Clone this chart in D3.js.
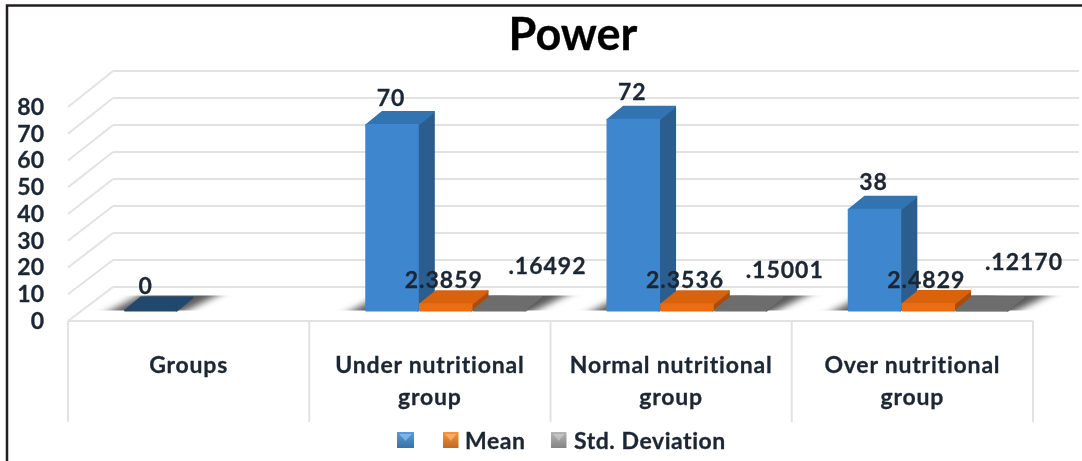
<!DOCTYPE html>
<html>
<head>
<meta charset="utf-8">
<script src="https://cdn.jsdelivr.net/npm/d3@7"></script>
<style>
html, body { margin: 0; padding: 0; background: #fff; }
svg { display: block; filter: blur(0.4px); }
text { font-family: Lato, "Open Sans", sans-serif; font-weight: 700; fill: #1d2733; stroke: #1d2733; stroke-width: 0.3px; }
</style>
</head>
<body>
<svg width="1082" height="461"></svg>
<script>
const categories = ["Groups", "Under nutritional group", "Normal nutritional group", "Over nutritional group"];
const seriesNames = ["", "Mean", "Std. Deviation"];
const firstValues = [0, 70, 72, 38];
const meanValues = [null, 2.3859, 2.3536, 2.4829];
const sdValues = [null, 0.16492, 0.15001, 0.1217];
const meanLabels = ["", "2.3859", "2.3536", "2.4829"];
const sdLabels = ["", ".16492", ".15001", ".12170"];
const yTicks = [0, 10, 20, 30, 40, 50, 60, 70, 80];

const svg = d3.select("svg");
const depthX = 16, depthY = 13; // bar depth
const colors = [
  { front: "#3e86cd", side: "#2b5d8f", top: "#3273b2", zero: "#23486e", legend: "#4a8ccb" },
  { front: "#ee6c10", side: "#a94d0c", top: "#d9620d", legend: "#e8832f" },
  { front: "#6f6f6f", side: "#555555", top: "#6d6d6d", legend: "#a3a3a3" }
];

// scales
const x0 = d3.scaleBand().domain(categories).range([68, 1033]);
const x1 = d3.scaleBand().domain([0, 1, 2]).range([57, 216]).paddingInner(0.04).paddingOuter(0);
const yFront = d3.scaleLinear().domain([0, 80]).range([321, 107]);
const yBack = d3.scaleLinear().domain([0, 80]).range([287, 71]);
const yBar = d3.scaleLinear().domain([0, 80]).range([310.5, 98.5]);

const defs = svg.append("defs");
defs.append("filter").attr("id", "floorShadow")
  .attr("x", "-50%").attr("width", "200%").attr("y", "-5%").attr("height", "110%")
  .append("feGaussianBlur").attr("stdDeviation", "8 0");

// picture frame
svg.append("rect").attr("x", 7).attr("y", 5.5).attr("width", 1090).attr("height", 470)
  .attr("fill", "none").attr("stroke", "#231f20").attr("stroke-width", 2.5);

svg.append("text").attr("x", 573).attr("y", 50).attr("text-anchor", "middle")
  .style("font-size", "45px").style("fill", "#000").style("stroke", "#000").text("Power");

// back wall gridlines and side wall
const grid = svg.append("g").attr("stroke", "#e2e2e2").attr("stroke-width", 2).attr("fill", "none");
grid.selectAll(".back").data(yTicks).enter().append("line")
  .attr("class", "back")
  .attr("x1", 113).attr("x2", 1079)
  .attr("y1", d => yBack(d)).attr("y2", d => yBack(d));
grid.selectAll(".side").data(yTicks).enter().append("line")
  .attr("class", "side")
  .attr("x1", 68).attr("x2", 113)
  .attr("y1", d => yFront(d)).attr("y2", d => yBack(d));

// category axis
const catAxis = svg.append("g").attr("stroke", "#e2e2e2").attr("stroke-width", 2);
catAxis.append("line").attr("x1", x0.range()[0]).attr("x2", x0.range()[1]).attr("y1", yFront(0)).attr("y2", yFront(0));
catAxis.selectAll(".sep").data(categories.concat([null])).enter().append("line")
  .attr("class", "sep")
  .attr("x1", d => d ? x0(d) : x0.range()[1])
  .attr("x2", d => d ? x0(d) : x0.range()[1])
  .attr("y1", yFront(0)).attr("y2", 422);

categories.forEach(c => {
  const cut = c.lastIndexOf(" group");
  const lines = cut > 0 ? [c.slice(0, cut), "group"] : [c];
  const t = svg.append("text").attr("text-anchor", "middle")
    .style("font-size", "23px").style("letter-spacing", "0.8px");
  lines.forEach((l, i) => {
    t.append("tspan").attr("x", x0(c) + x0.bandwidth() / 2).attr("y", 373 + i * 32).text(l);
  });
});

// value axis, only the labels show
const yAxis = svg.append("g").attr("transform", "translate(44,0)")
  .call(d3.axisLeft(yFront).tickValues(yTicks).tickSize(0).tickPadding(0));
yAxis.select(".domain").remove();
yAxis.selectAll("text").style("font-size", "23px").style("font-family", "Lato, sans-serif");

// bars
const rows = categories.map((c, i) => ({ c, vals: [firstValues[i], meanValues[i], sdValues[i]] }));

// shadows go first, they sit on the floor
rows.forEach(r => {
  r.vals.forEach((v, s) => {
    if (v === null) return;
    const xl = x0(r.c) + x1(s), w = x1.bandwidth(), b = yBar(0);
    svg.append("polygon")
      .attr("points", [[xl - 14, b], [xl + w + 10, b], [xl + w + depthX + 24, b - 15], [xl + depthX - 2, b - 15]].join(" "))
      .attr("fill", "#5c5c5c").attr("filter", "url(#floorShadow)");
  });
});

rows.forEach(r => {
  r.vals.forEach((v, s) => {
    if (v === null) return;
    const col = colors[s];
    const xl = x0(r.c) + x1(s), w = x1.bandwidth();
    const yt = yBar(v), yb = yBar(0);
    const g = svg.append("g").attr("stroke-width", 2).attr("stroke-linejoin", "round");
    g.append("polygon")
      .attr("points", [[xl + w, yt], [xl + w + depthX, yt - depthY], [xl + w + depthX, yb - depthY], [xl + w, yb]].join(" "))
      .attr("fill", col.side).attr("stroke", col.side);
    g.append("polygon")
      .attr("points", [[xl, yt], [xl + depthX, yt - depthY], [xl + w + depthX, yt - depthY], [xl + w, yt]].join(" "))
      .attr("fill", v === 0 ? col.zero : col.top).attr("stroke", v === 0 ? col.zero : col.top);
    g.append("rect").attr("x", xl).attr("y", yt).attr("width", w).attr("height", yb - yt)
      .attr("fill", col.front).attr("stroke", v === 0 ? "none" : col.front);
  });
});

// data labels
const label = (x, y, txt) => svg.append("text").attr("x", x).attr("y", y)
  .attr("text-anchor", "middle").attr("dominant-baseline", "central")
  .style("font-size", "23px").style("letter-spacing", "1px").text(txt);
// the labels were dragged by hand in the original
const sdNudgeX = [0, 48, 44, 42];
const sdNudgeY = [0, -45, -41, -49];

rows.forEach((r, i) => {
  const mid = s => x0(r.c) + x1(s) + x1.bandwidth() / 2;
  label(mid(0) - (firstValues[i] === 0 ? 5 : 1), yBar(firstValues[i]) - (firstValues[i] === 0 ? 26 : 28.5), String(firstValues[i]));
  if (meanValues[i] === null) return;
  label(mid(1) - 2, yBar(meanValues[i]) - 25, meanLabels[i]);
  label(mid(2) + sdNudgeX[i], yBar(sdValues[i]) + sdNudgeY[i], sdLabels[i]);
});

// legend
const legendX = [397, 443, 551];
const textX = [null, 465, 574];
seriesNames.forEach((n, i) => {
  const grad = defs.append("linearGradient").attr("id", "lg" + i).attr("x1", 0).attr("x2", 0).attr("y1", 0).attr("y2", 1);
  grad.append("stop").attr("offset", 0).attr("stop-color", d3.color(colors[i].legend).brighter(0.3));
  grad.append("stop").attr("offset", 1).attr("stop-color", d3.color(colors[i].legend).darker(0.6));
  const sw = i === 0 ? 17 : 15.5;
  svg.append("rect").attr("x", legendX[i]).attr("y", 432).attr("width", sw).attr("height", 16)
    .attr("fill", "url(#lg" + i + ")");
  svg.append("polygon")
    .attr("points", [[legendX[i] + 2, 434], [legendX[i] + sw - 2, 434], [legendX[i] + sw / 2, 441]].join(" "))
    .attr("fill", "#fff").attr("fill-opacity", 0.3);
  if (n) {
    svg.append("text").attr("x", textX[i]).attr("y", 449).style("font-size", "23px")
      .style("letter-spacing", "0.55px").text(n);
  }
});
</script>
</body>
</html>
